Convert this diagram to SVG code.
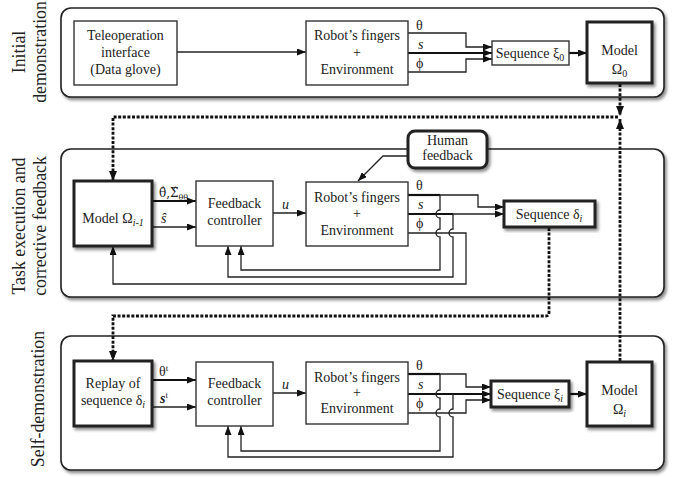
<svg xmlns="http://www.w3.org/2000/svg" width="683" height="477" viewBox="0 0 683 477" font-family="'Liberation Serif', 'Times New Roman', 'DejaVu Serif', serif">
<style>
text{font-family:'Liberation Serif','Times New Roman','DejaVu Serif',serif;font-size:14px;fill:#222}
.c{text-anchor:middle}
.side{font-size:17.8px;text-anchor:middle}
.it{font-style:italic}
.panel{fill:#fff;stroke:#222;stroke-width:1.6}
.box{fill:#fff;stroke:#333;stroke-width:1.4}
.tbox{fill:#fff;stroke:#222;stroke-width:3}
.ln{fill:none;stroke:#222;stroke-width:1.3}
.th{fill:none;stroke:#111;stroke-width:2.2}
.dash{fill:none;stroke:#111;stroke-width:2.8;stroke-dasharray:3 1.6}
</style>
<defs>
<filter id="sh" x="-10%" y="-10%" width="125%" height="130%">
<feDropShadow dx="2" dy="2.5" stdDeviation="1.6" flood-color="#000" flood-opacity="0.45"/>
</filter>
<marker id="a" markerUnits="userSpaceOnUse" markerWidth="9" markerHeight="7" refX="9" refY="3.5" orient="auto">
<path d="M0,0 L9,3.5 L0,7 z" fill="#111"/>
</marker>
<marker id="ad" markerUnits="userSpaceOnUse" markerWidth="10" markerHeight="8" refX="10" refY="4" orient="auto">
<path d="M0,0 L10,4 L0,8 z" fill="#111"/>
</marker>
</defs>

<!-- panels -->
<g id="panel1"><rect class="panel" filter="url(#sh)" x="61" y="8" width="603" height="89" rx="10"/></g>
<g id="panel2"><rect class="panel" filter="url(#sh)" x="61" y="149" width="603" height="148" rx="10"/></g>
<g id="panel3"><rect class="panel" filter="url(#sh)" x="61" y="336" width="603" height="134" rx="10"/></g>

<!-- side labels -->
<g id="labels">
<text class="side" transform="translate(25,52) rotate(-90)">Initial</text>
<text class="side" transform="translate(46,52) rotate(-90)">demonstration</text>
<text class="side" transform="translate(25,226) rotate(-90)">Task execution and</text>
<text class="side" transform="translate(46,226) rotate(-90)">corrective feedback</text>
<text class="side" transform="translate(44,399) rotate(-90)">Self-demonstration</text>
</g>

<!-- connectors -->
<g id="connectors">
<!-- panel 1 -->
<line class="ln" x1="177" y1="52" x2="306" y2="52" marker-end="url(#a)"/>
<path class="ln" d="M408,33 H466 V47 H492" marker-end="url(#a)"/>
<path class="th" d="M408,53 H492" marker-end="url(#a)"/>
<path class="ln" d="M408,72 H466 V59 H492" marker-end="url(#a)"/>
<path class="th" d="M569,53 H587" marker-end="url(#a)"/>

<!-- dashed model links -->
<path class="dash" d="M620,84 V116" marker-end="url(#ad)"/>
<path class="dash" d="M620,361 V119" marker-end="url(#ad)"/>
<path class="dash" d="M618,117 H113 V181" marker-end="url(#ad)"/>
<path class="dash" d="M549,228 V313 Q549,316 546,316 H113 V361" marker-end="url(#ad)"/>

<!-- panel 2 -->
<path class="th" d="M152,201 H196" marker-end="url(#a)"/>
<path class="ln" d="M152,227 H196" marker-end="url(#a)"/>
<path class="ln" d="M273,213 H306" marker-end="url(#a)"/>
<path class="ln" d="M408,156 H383 L358,181" marker-end="url(#a)"/>
<path class="th" d="M408,195 H440"/>
<path class="ln" d="M440,195 H478 V207 H504" marker-end="url(#a)"/>
<path class="th" d="M408,214 H453"/>
<path class="ln" d="M453,214 H504" marker-end="url(#a)"/>
<path class="ln" d="M408,233 H466 V284 H113 V246" marker-end="url(#a)"/>
<path class="ln" d="M440,195 V210 A4,4 0 0,0 440,218 V229 A4,4 0 0,0 440,237 V270 H241 V246" marker-end="url(#a)"/>
<path class="ln" d="M453,214 V229 A4,4 0 0,0 453,237 V277 H228 V246" marker-end="url(#a)"/>

<!-- panel 3 -->
<path class="th" d="M152,380 H196" marker-end="url(#a)"/>
<path class="ln" d="M152,407 H196" marker-end="url(#a)"/>
<path class="ln" d="M273,393 H306" marker-end="url(#a)"/>
<path class="th" d="M408,374 H440"/>
<path class="ln" d="M440,374 H466 V387 H491" marker-end="url(#a)"/>
<path class="th" d="M408,394 H491" marker-end="url(#a)"/>
<path class="ln" d="M408,413 H466 V400 H491" marker-end="url(#a)"/>
<path class="ln" d="M440,374 V390 A4,4 0 0,0 440,398 V409 A4,4 0 0,0 440,417 V451 H241 V426" marker-end="url(#a)"/>
<path class="ln" d="M453,394 V409 A4,4 0 0,0 453,417 V457 H228 V426" marker-end="url(#a)"/>
<path class="th" d="M569,394 H587" marker-end="url(#a)"/>
</g>

<!-- panel 1 nodes -->
<g id="teleop">
<rect class="box" x="74" y="21" width="103" height="64"/>
<text class="c" x="125.5" y="40">Teleoperation</text>
<text class="c" x="125.5" y="57">interface</text>
<text class="c" x="125.5" y="74">(Data glove)</text>
</g>
<g id="robot1">
<rect class="box" x="306" y="21" width="102" height="64"/>
<text class="c" x="357" y="40">Robot’s fingers</text>
<text class="c" x="357" y="57">+</text>
<text class="c" x="357" y="74">Environment</text>
</g>
<g id="sig1">
<text x="416" y="30">θ</text>
<text class="it" x="418" y="49">s</text>
<text x="416" y="68">ϕ</text>
</g>
<g id="seq0">
<rect class="box" x="492" y="41" width="77" height="24"/>
<text class="c" x="530" y="58">Sequence ξ<tspan font-size="10" dy="3">0</tspan></text>
</g>
<g id="model0">
<rect class="tbox" filter="url(#sh)" x="587" y="22" width="65" height="61"/>
<text class="c" x="619.5" y="55">Model</text>
<text class="c" x="619.5" y="74">Ω<tspan font-size="10" dy="3">0</tspan></text>
</g>

<!-- panel 2 nodes -->
<g id="human">
<rect class="tbox" filter="url(#sh)" x="408" y="131" width="79" height="37" rx="7" stroke-width="2.4"/>
<text class="c" x="447.5" y="145">Human</text>
<text class="c" x="447.5" y="160">feedback</text>
</g>
<g id="modelprev">
<rect class="tbox" filter="url(#sh)" x="74" y="181" width="78" height="65"/>
<text class="c" x="113" y="223">Model Ω<tspan class="it" font-size="10" dy="3">i-1</tspan></text>
</g>
<g id="sig2a">
<text x="159" y="197" style="font-family:'DejaVu Serif',serif;font-size:12px">θ̂,Σ̂<tspan font-size="8" dy="3">θθ</tspan></text>
<text class="it" x="161" y="223">ŝ</text>
</g>
<g id="fc2">
<rect class="box" x="196" y="181" width="77" height="65"/>
<text class="c" x="234.5" y="208">Feedback</text>
<text class="c" x="234.5" y="225">controller</text>
<text class="it" x="282" y="209">u</text>
</g>
<g id="robot2">
<rect class="box" x="306" y="182" width="102" height="64"/>
<text class="c" x="357" y="202">Robot’s fingers</text>
<text class="c" x="357" y="218">+</text>
<text class="c" x="357" y="235">Environment</text>
</g>
<g id="sig2">
<text x="416" y="190">θ</text>
<text class="it" x="418" y="209">s</text>
<text x="416" y="228">ϕ</text>
</g>
<g id="seqd">
<rect class="tbox" filter="url(#sh)" x="504" y="201" width="91" height="26" stroke-width="2.4"/>
<text class="c" x="549" y="219">Sequence δ<tspan class="it" font-size="10" dy="3">i</tspan></text>
</g>

<!-- panel 3 nodes -->
<g id="replay">
<rect class="tbox" filter="url(#sh)" x="74" y="361" width="78" height="65"/>
<text class="c" x="113" y="388">Replay of</text>
<text class="c" x="113" y="405">sequence δ<tspan class="it" font-size="10" dy="3">i</tspan></text>
</g>
<g id="sig3a">
<text x="159" y="376">θ<tspan font-size="9" dy="-5">t</tspan></text>
<text x="160" y="403" font-weight="bold" font-style="italic">s<tspan font-size="9" dy="-5" font-weight="normal" font-style="normal">t</tspan></text>
</g>
<g id="fc3">
<rect class="box" x="196" y="362" width="77" height="64"/>
<text class="c" x="234.5" y="388">Feedback</text>
<text class="c" x="234.5" y="405">controller</text>
<text class="it" x="282" y="389">u</text>
</g>
<g id="robot3">
<rect class="box" x="306" y="362" width="102" height="62"/>
<text class="c" x="357" y="382">Robot’s fingers</text>
<text class="c" x="357" y="397">+</text>
<text class="c" x="357" y="413">Environment</text>
</g>
<g id="sig3">
<text x="416" y="370">θ</text>
<text class="it" x="418" y="389">s</text>
<text x="416" y="408">ϕ</text>
</g>
<g id="seqxi">
<rect class="tbox" filter="url(#sh)" x="491" y="381" width="78" height="26" stroke-width="2.4"/>
<text class="c" x="530" y="399">Sequence ξ<tspan class="it" font-size="10" dy="3">i</tspan></text>
</g>
<g id="modeli">
<rect class="tbox" filter="url(#sh)" x="587" y="362" width="65" height="64"/>
<text class="c" x="619.5" y="395">Model</text>
<text class="c" x="619.5" y="414">Ω<tspan class="it" font-size="10" dy="3">i</tspan></text>
</g>
</svg>
